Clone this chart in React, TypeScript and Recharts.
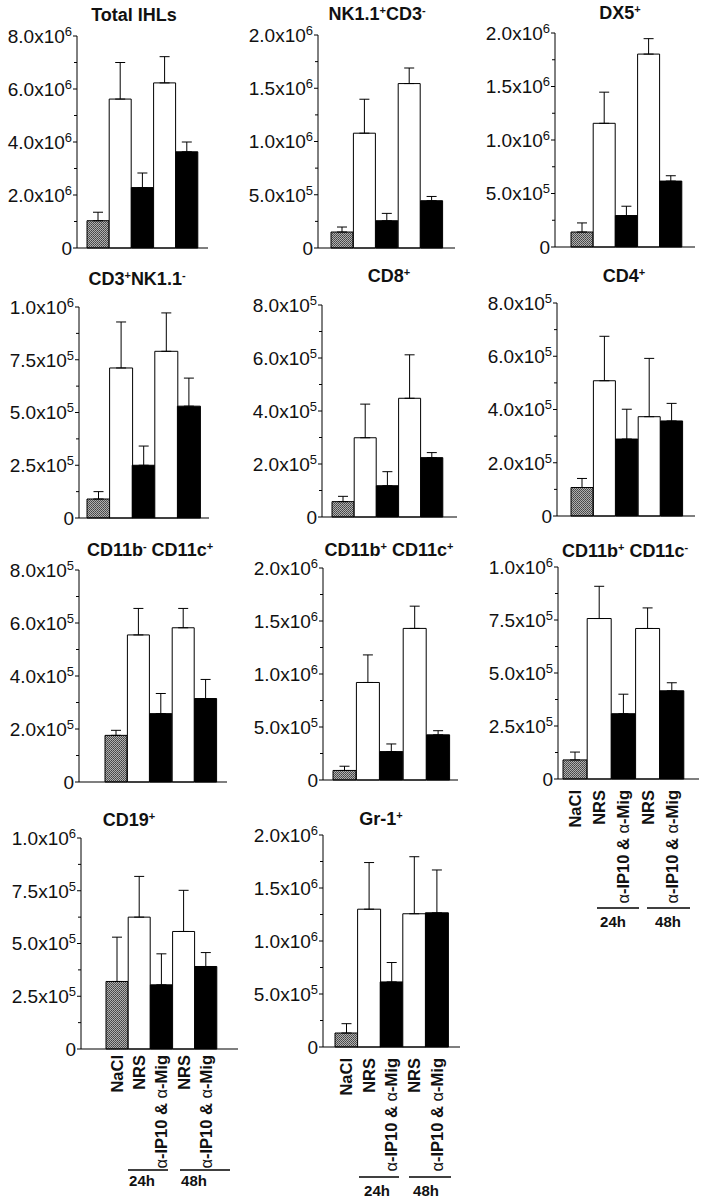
import React from 'react';
import { BarChart, Bar, XAxis, YAxis, ErrorBar, Cell } from 'recharts';

// ---------- data ----------
const categories = ['NaCl', 'NRS 24h', 'α-IP10 & α-Mig 24h', 'NRS 48h', 'α-IP10 & α-Mig 48h'];
const categoryLabels = ['NaCl', 'NRS', 'α-IP10 & α-Mig', 'NRS', 'α-IP10 & α-Mig'];
const timeLabels = ['24h', '48h'];

const totalIHLsMean = [1.03e6, 5.62e6, 2.28e6, 6.23e6, 3.63e6];
const totalIHLsSd = [0.32e6, 1.38e6, 0.55e6, 0.99e6, 0.37e6];
const nkMean = [0.15e6, 1.078e6, 0.256e6, 1.544e6, 0.444e6];
const nkSd = [0.047e6, 0.319e6, 0.069e6, 0.146e6, 0.04e6];
const dx5Mean = [0.14e6, 1.156e6, 0.294e6, 1.803e6, 0.616e6];
const dx5Sd = [0.085e6, 0.291e6, 0.087e6, 0.144e6, 0.05e6];
const cd3Mean = [0.09e6, 0.711e6, 0.25e6, 0.79e6, 0.53e6];
const cd3Sd = [0.035e6, 0.218e6, 0.091e6, 0.182e6, 0.133e6];
const cd8Mean = [0.58e5, 2.99e5, 1.18e5, 4.48e5, 2.24e5];
const cd8Sd = [0.2e5, 1.27e5, 0.53e5, 1.64e5, 0.19e5];
const cd4Mean = [1.07e5, 5.08e5, 2.89e5, 3.73e5, 3.57e5];
const cd4Sd = [0.34e5, 1.67e5, 1.12e5, 2.19e5, 0.66e5];
const cd11bNegCPosMean = [1.76e5, 5.55e5, 2.58e5, 5.82e5, 3.15e5];
const cd11bNegCPosSd = [0.19e5, 1.0e5, 0.76e5, 0.73e5, 0.72e5];
const cd11bPosCPosMean = [0.09e6, 0.92e6, 0.268e6, 1.43e6, 0.426e6];
const cd11bPosCPosSd = [0.04e6, 0.26e6, 0.072e6, 0.21e6, 0.039e6];
const cd11bPosCNegMean = [0.09e6, 0.757e6, 0.308e6, 0.71e6, 0.416e6];
const cd11bPosCNegSd = [0.037e6, 0.152e6, 0.092e6, 0.097e6, 0.038e6];
const cd19Mean = [0.32e6, 0.625e6, 0.304e6, 0.557e6, 0.391e6];
const cd19Sd = [0.21e6, 0.193e6, 0.147e6, 0.195e6, 0.066e6];
const gr1Mean = [0.132e6, 1.30e6, 0.614e6, 1.257e6, 1.266e6];
const gr1Sd = [0.088e6, 0.44e6, 0.183e6, 0.538e6, 0.404e6];

// tick values (major ticks at even positions, minor ticks between)
const ticks8e6 = [0, 1e6, 2e6, 3e6, 4e6, 5e6, 6e6, 7e6, 8e6];
const ticks2e6 = [0, 2.5e5, 5e5, 7.5e5, 1e6, 1.25e6, 1.5e6, 1.75e6, 2e6];
const ticks1e6 = [0, 1.25e5, 2.5e5, 3.75e5, 5e5, 6.25e5, 7.5e5, 8.75e5, 1e6];
const ticks8e5 = [0, 1e5, 2e5, 3e5, 4e5, 5e5, 6e5, 7e5, 8e5];

// ---------- styles ----------
const FONT = '"Liberation Sans", Arial, Helvetica, sans-serif';
const YW = 80;
const MT = 24;

const sup = (s: string) => (
  <span style={{ fontSize: 11, position: 'relative', top: '-0.55em', verticalAlign: 'baseline' }}>{s}</span>
);

function tickLabel(v: number) {
  if (v === 0) return { main: '0', exp: '' };
  const exp = Math.floor(Math.log10(v) + 1e-9);
  const mant = (v / Math.pow(10, exp)).toFixed(1);
  return { main: `${mant}x10`, exp: String(exp) };
}

type LabelCfg = {
  labelOff: number;
  lineY: number;
  line1: [number, number];
  line2: [number, number];
  textY: number;
  text1: number;
  text2: number;
};

type PanelCfg = {
  id: string;
  title: React.ReactNode;
  titleX: number;
  titleY: number;
  mean: number[];
  sd: number[];
  ticks: number[];
  axisX: number;
  topY: number;
  zeroY: number;
  axisEnd: number;
  firstBar: number;
  lastEnd: number;
  labels?: LabelCfg;
};

const colors = (id: string) => [`url(#dots-${id})`, '#ffffff', '#000000', '#ffffff', '#000000'];

function Panel({ cfg }: { cfg: PanelCfg }) {
  const xh = cfg.labels ? 130 : 2;
  const mb = cfg.labels ? 0 : 14;
  const left = cfg.axisX - YW;
  const top = cfg.topY - MT;
  const plotW = cfg.axisEnd - cfg.axisX;
  const width = YW + plotW + 4;
  const height = MT + (cfg.zeroY - cfg.topY) + xh + mb;
  const padL = cfg.firstBar - cfg.axisX;
  const padR = cfg.axisEnd - cfg.lastEnd;
  const data = categories.map((c, i) => ({ name: c, value: cfg.mean[i], err: [0, cfg.sd[i]] }));
  const fills = colors(cfg.id);

  const YTick = (p: any) => {
    const v = p.payload.value;
    const idx = cfg.ticks.indexOf(v);
    const major = idx % 2 === 0;
    const { main, exp } = tickLabel(v);
    return (
      <g>
        <line x1={p.x - (major ? 4 : 3)} x2={p.x} y1={p.y} y2={p.y} stroke="#000" strokeWidth={1} />
        {major && (
          <text x={p.x - 5} y={p.y} dy="0.36em" textAnchor="end" fontSize={19} fontFamily={FONT} fill="#111">
            {main}
            {exp && (
              <tspan dy={-7} fontSize={13}>
                {exp}
              </tspan>
            )}
          </text>
        )}
      </g>
    );
  };

  const XTick = (p: any) => {
    if (!cfg.labels) return <g />;
    const lbl = categoryLabels[p.index];
    const parts = lbl.split(/(α)/).filter((s) => s.length > 0);
    return (
      <text
        transform={`translate(${p.x},${p.y + cfg.labels.labelOff}) rotate(-90)`}
        textAnchor="end"
        dy="0.36em"
        fontSize={16.5}
        fontWeight="bold"
        fontFamily={FONT}
        fill="#111"
      >
        {parts.map((s, i) => (
          <tspan key={i} fontWeight={s === 'α' ? 'normal' : 'bold'}>
            {s}
          </tspan>
        ))}
      </text>
    );
  };

  return (
    <>
      <div style={{ position: 'absolute', left, top, width, height }}>
        <BarChart
          width={width}
          height={height}
          data={data}
          margin={{ top: MT, right: 4, left: 0, bottom: mb }}
          barCategoryGap={0}
          barGap={0}
        >
          <defs>
            <pattern id={`dots-${cfg.id}`} width={2} height={2} patternUnits="userSpaceOnUse">
              <rect x={0} y={0} width={2} height={2} fill="#b0b0b0" />
              <rect x={0} y={0} width={1} height={1} fill="#444" />
              <rect x={1} y={1} width={1} height={1} fill="#555" />
            </pattern>
          </defs>
          <XAxis
            dataKey="name"
            type="category"
            padding={{ left: padL, right: padR }}
            axisLine={{ stroke: '#000', strokeWidth: 1.2 }}
            tickLine={false}
            tickSize={0}
            tickMargin={0}
            interval={0}
            height={xh}
            tick={cfg.labels ? XTick : false}
          />
          <YAxis
            type="number"
            domain={[0, cfg.ticks[cfg.ticks.length - 1]]}
            ticks={cfg.ticks}
            interval={0}
            width={YW}
            axisLine={{ stroke: '#000', strokeWidth: 1 }}
            tickLine={false}
            tickSize={0}
            tickMargin={0}
            tick={YTick}
          />
          <Bar dataKey="value" stroke="#000" strokeWidth={1} isAnimationActive={false}>
            {data.map((d, i) => (
              <Cell key={d.name} fill={fills[i]} />
            ))}
            <ErrorBar dataKey="err" width={5} stroke="#000" strokeWidth={1} direction="y" />
          </Bar>
        </BarChart>
      </div>
      <div
        style={{
          position: 'absolute',
          left: cfg.titleX,
          top: cfg.titleY,
          transform: 'translate(-50%, -50%)',
          whiteSpace: 'nowrap',
          fontFamily: FONT,
          fontWeight: 'bold',
          fontSize: 18,
          lineHeight: 1,
          color: '#111',
        }}
      >
        {cfg.title}
      </div>
      {cfg.labels && (
        <svg style={{ position: 'absolute', left: 0, top: 0 }} width={708} height={1200} pointerEvents="none">
          <line x1={cfg.labels.line1[0]} x2={cfg.labels.line1[1]} y1={cfg.labels.lineY} y2={cfg.labels.lineY} stroke="#000" strokeWidth={1.5} />
          <line x1={cfg.labels.line2[0]} x2={cfg.labels.line2[1]} y1={cfg.labels.lineY} y2={cfg.labels.lineY} stroke="#000" strokeWidth={1.5} />
          <text x={cfg.labels.text1} y={cfg.labels.textY} textAnchor="middle" fontSize={15} fontWeight="bold" fontFamily={FONT} fill="#111">
            {timeLabels[0]}
          </text>
          <text x={cfg.labels.text2} y={cfg.labels.textY} textAnchor="middle" fontSize={15} fontWeight="bold" fontFamily={FONT} fill="#111">
            {timeLabels[1]}
          </text>
        </svg>
      )}
    </>
  );
}

const panels: PanelCfg[] = [
  { id: 'a', title: <>Total IHLs</>, titleX: 134, titleY: 15, mean: totalIHLsMean, sd: totalIHLsSd, ticks: ticks8e6,
    axisX: 77, topY: 36, zeroY: 248, axisEnd: 208, firstBar: 87, lastEnd: 198 },
  { id: 'b', title: <>NK1.1{sup('+')}CD3{sup('-')}</>, titleX: 377, titleY: 14, mean: nkMean, sd: nkSd, ticks: ticks2e6,
    axisX: 318, topY: 35, zeroY: 248, axisEnd: 455, firstBar: 331, lastEnd: 443 },
  { id: 'c', title: <>DX5{sup('+')}</>, titleX: 620, titleY: 13, mean: dx5Mean, sd: dx5Sd, ticks: ticks2e6,
    axisX: 555, topY: 33, zeroY: 247, axisEnd: 695, firstBar: 571, lastEnd: 682 },
  { id: 'd', title: <>CD3{sup('+')}NK1.1{sup('-')}</>, titleX: 137, titleY: 279, mean: cd3Mean, sd: cd3Sd, ticks: ticks1e6,
    axisX: 79, topY: 307, zeroY: 518, axisEnd: 209, firstBar: 87, lastEnd: 200 },
  { id: 'e', title: <>CD8{sup('+')}</>, titleX: 389, titleY: 276, mean: cd8Mean, sd: cd8Sd, ticks: ticks8e5,
    axisX: 322, topY: 305, zeroY: 517, axisEnd: 457, firstBar: 332, lastEnd: 443 },
  { id: 'f', title: <>CD4{sup('+')}</>, titleX: 624, titleY: 276, mean: cd4Mean, sd: cd4Sd, ticks: ticks8e5,
    axisX: 557, topY: 303, zeroY: 516, axisEnd: 695, firstBar: 571, lastEnd: 683 },
  { id: 'g', title: <>CD11b{sup('-')} CD11c{sup('+')}</>, titleX: 150, titleY: 550, mean: cd11bNegCPosMean, sd: cd11bNegCPosSd, ticks: ticks8e5,
    axisX: 79, topY: 570, zeroY: 782, axisEnd: 227, firstBar: 105, lastEnd: 217 },
  { id: 'h', title: <>CD11b{sup('+')} CD11c{sup('+')}</>, titleX: 389, titleY: 550, mean: cd11bPosCPosMean, sd: cd11bPosCPosSd, ticks: ticks2e6,
    axisX: 323, topY: 568, zeroY: 780, axisEnd: 458, firstBar: 333, lastEnd: 450 },
  { id: 'i', title: <>CD11b{sup('+')} CD11c{sup('-')}</>, titleX: 625, titleY: 551, mean: cd11bPosCNegMean, sd: cd11bPosCNegSd, ticks: ticks1e6,
    axisX: 558, topY: 567, zeroY: 779, axisEnd: 699, firstBar: 563, lastEnd: 684,
    labels: { labelOff: 11, lineY: 908, line1: [597, 639], line2: [647, 690], textY: 927, text1: 613, text2: 668 } },
  { id: 'j', title: <>CD19{sup('+')}</>, titleX: 129, titleY: 820, mean: cd19Mean, sd: cd19Sd, ticks: ticks1e6,
    axisX: 81, topY: 838, zeroY: 1049, axisEnd: 238, firstBar: 106, lastEnd: 217,
    labels: { labelOff: 6, lineY: 1170, line1: [128, 168], line2: [180, 230], textY: 1186, text1: 142, text2: 194 } },
  { id: 'k', title: <>Gr-1{sup('+')}</>, titleX: 381, titleY: 819, mean: gr1Mean, sd: gr1Sd, ticks: ticks2e6,
    axisX: 323, topY: 835, zeroY: 1047, axisEnd: 460, firstBar: 335, lastEnd: 448,
    labels: { labelOff: 11, lineY: 1177, line1: [359, 399], line2: [409, 451], textY: 1196, text1: 377, text2: 426 } },
];

export default function App() {
  return (
    <div style={{ position: 'absolute', left: 0, top: 0, width: 708, height: 1200, background: '#fff', overflow: 'hidden' }}>
      {panels.map((p) => (
        <Panel key={p.id} cfg={p} />
      ))}
    </div>
  );
}
